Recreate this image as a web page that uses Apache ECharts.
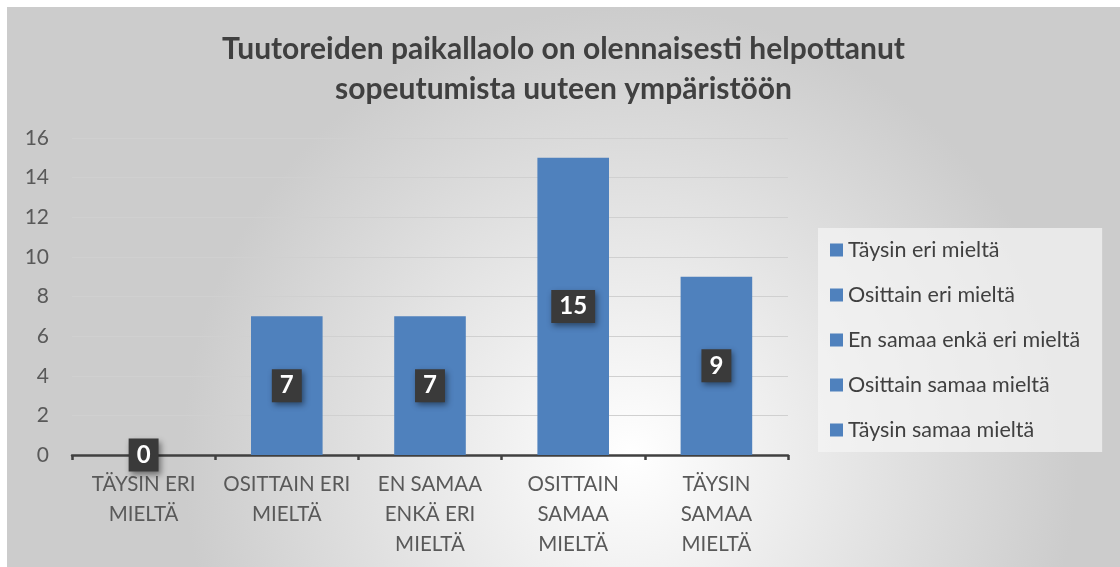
<!DOCTYPE html>
<html>
<head>
<meta charset="utf-8">
<script src="https://cdn.jsdelivr.net/npm/echarts@6/dist/echarts.min.js"></script>
<style>
  html, body { margin: 0; padding: 0; background: #ffffff; }
  #chart { position: absolute; left: 7px; top: 7px; width: 1113px; height: 560px; }
</style>
</head>
<body>
<div id="chart"></div>
<script>
// categories on the x axis
const categories = ['TÄYSIN ERI\nMIELTÄ', 'OSITTAIN ERI\nMIELTÄ', 'EN SAMAA\nENKÄ ERI\nMIELTÄ', 'OSITTAIN\nSAMAA\nMIELTÄ', 'TÄYSIN\nSAMAA\nMIELTÄ'];
// legend names
const legendNames = ['Täysin eri mieltä', 'Osittain eri mieltä', 'En samaa enkä eri mieltä', 'Osittain samaa mieltä', 'Täysin samaa mieltä'];
// answer counts
const counts = [0, 7, 7, 15, 9];
const yTicks = { min: 0, max: 16, interval: 2 };

const chart = echarts.init(document.getElementById('chart'));

// one series per answer so that the legend shows every category
const series = legendNames.map((name, i) => ({
  name: name,
  type: 'bar',
  stack: 'all',
  barWidth: '50%',
  itemStyle: { color: '#4f81bd' },
  label: {
    show: true,
    position: 'inside',
    color: '#ffffff',
    fontFamily: 'Lato',
    fontWeight: 'bold',
    fontSize: 24,
    backgroundColor: '#3a3a3a',
    padding: [5, 8, 4, 8],
    shadowColor: 'rgba(0,0,0,0.45)',
    shadowBlur: 6,
    shadowOffsetX: 2,
    shadowOffsetY: 3
  },
  data: counts.map((v, j) => (j === i ? v : '-'))
}));

chart.setOption({
  animation: false,
  backgroundColor: new echarts.graphic.RadialGradient(0.56, 0.8, 0.8, [
    { offset: 0, color: '#ffffff' },
    { offset: 1, color: '#cccccc' }
  ]),
  textStyle: { fontFamily: 'Lato' },
  title: {
    text: 'Tuutoreiden paikallaolo on olennaisesti helpottanut\nsopeutumista uuteen ympäristöön',
    left: 'center',
    top: 17,
    textStyle: {
      fontFamily: 'Lato',
      fontSize: 30,
      fontWeight: 'bold',
      color: '#404040',
      lineHeight: 40
    }
  },
  legend: {
    orient: 'vertical',
    left: 811,
    top: 221,
    padding: [11, 22, 11, 12],
    itemGap: 23,
    itemWidth: 13,
    itemHeight: 13,
    icon: 'rect',
    backgroundColor: 'rgba(245,245,245,0.7)',
    textStyle: { fontFamily: 'Lato', fontSize: 21.5, color: '#404040' },
    data: legendNames
  },
  grid: { left: 65, right: 332, top: 131, bottom: 112 },
  xAxis: {
    type: 'category',
    data: categories,
    axisLine: { lineStyle: { color: '#404040', width: 2.5 } },
    axisTick: { show: true, length: 5, lineStyle: { color: '#404040', width: 2.5 } },
    axisLabel: {
      interval: 0,
      margin: 14,
      color: '#595959',
      fontFamily: 'Lato',
      fontSize: 20.5,
      lineHeight: 30
    }
  },
  yAxis: {
    type: 'value',
    min: yTicks.min,
    max: yTicks.max,
    interval: yTicks.interval,
    axisLine: { show: false },
    axisTick: { show: false },
    axisLabel: { margin: 23, color: '#595959', fontFamily: 'Lato', fontSize: 21 },
    splitLine: { lineStyle: { color: '#d0d0d0', width: 1 } }
  },
  series: series
});
</script>
</body>
</html>
